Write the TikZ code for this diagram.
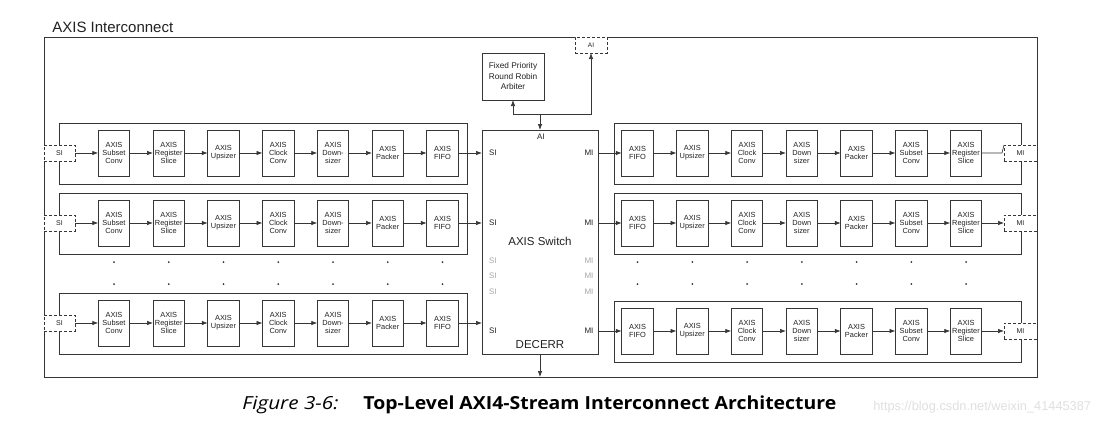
\documentclass[tikz,border=0pt]{standalone}
\usepackage{fontspec}
\setmainfont{Liberation Sans}
\newfontfamily\capfont{Open Sans}
\usetikzlibrary{arrows.meta}
\definecolor{ln}{HTML}{363636}
\definecolor{tx}{HTML}{222222}
\definecolor{gtx}{HTML}{A8A8A8}
\begin{document}
\begin{tikzpicture}[x=1pt,y=-1pt,line width=0.7pt,color=ln,
  blk/.style={draw, minimum width=31.5pt, minimum height=46pt, inner sep=0pt, outer sep=0pt, align=center, text=tx, font=\fontsize{7.4}{7.7}\selectfont},
  dbox/.style={draw, dash pattern=on 3pt off 2pt, fill=white, minimum width=31pt, minimum height=16pt, inner sep=0pt, outer sep=0pt, text=tx, font=\fontsize{7}{8}\selectfont},
  arr/.style={-{Latex[length=6pt,width=4.5pt]}},
  lbl/.style={inner sep=0pt, text=tx, font=\fontsize{8}{9}\selectfont},
  glbl/.style={inner sep=0pt, text=gtx, font=\fontsize{8}{9}\selectfont},
  big/.style={inner sep=0pt, text=tx, font=\fontsize{11.5}{13}\selectfont}]
\useasboundingbox (0,0) rectangle (1109,424);
\fill[white] (0,0) rectangle (1109,424);

% title and outer box
\node[anchor=base west, inner sep=0pt, text=tx, font=\fontsize{15}{18}\selectfont] (title) at (52,32) {AXIS Interconnect};
\node[draw, anchor=north west, minimum width=993pt, minimum height=340pt, inner sep=0pt, outer sep=0pt] (outer) at (44,37) {};

% switch
\node[draw, anchor=north west, minimum width=116pt, minimum height=224pt, inner sep=0pt, outer sep=0pt] (sw) at (482,130) {};
\node[lbl] (swai) at (541,137) {AI};
\node[big] (swname) at (540,241) {AXIS Switch};
\node[big] (decerr) at (540,345) {DECERR};
\node[lbl] (si1) at (493,153) {SI};
\node[lbl] (si2) at (493,223) {SI};
\node[glbl] (sig1) at (493,261) {SI};
\node[glbl] (sig2) at (493,276) {SI};
\node[glbl] (sig3) at (493,292) {SI};
\node[lbl] (si3) at (493,331) {SI};
\node[lbl] (mi1) at (589,153) {MI};
\node[lbl] (mi2) at (589,223) {MI};
\node[glbl] (mig1) at (589,261) {MI};
\node[glbl] (mig2) at (589,276) {MI};
\node[glbl] (mig3) at (589,292) {MI};
\node[lbl] (mi3) at (589,331) {MI};

% arbiter and AI port
\node[draw, anchor=north west, minimum width=62pt, minimum height=47pt, inner sep=0pt, outer sep=0pt, align=center, text=tx, font=\fontsize{8.3}{10.5}\selectfont] (arb) at (482,53) {Fixed Priority\\Round Robin\\Arbiter};
\node[dbox, minimum width=32pt, font=\fontsize{6.5}{7}\selectfont] (ai) at (591,45) {AI};
\coordinate (j) at (540,114);
\draw[arr] (j) -- (sw.north);
\draw[arr] (j) -| (arb.south);
\draw[arr] (j) -| (ai.south);
\draw[arr] (sw.south) -- (sw.south |- outer.south);

% left rows
\foreach \r/\y in {1/153,2/223,3/323}{
  \draw (59,\y-30) rectangle (467,\y+31);
  \foreach \c/\t in {1/{AXIS\\Subset\\Conv},2/{AXIS\\Register\\Slice},3/{AXIS\\Upsizer},4/{AXIS\\Clock\\Conv},5/{AXIS\\Down-\\sizer},6/{AXIS\\Packer},7/{AXIS\\FIFO}}{
    \node[blk] (L\r\c) at ({114+(\c-1)*54.75},\y) {\t};
  }
  \foreach \c [count=\n from 2] in {1,...,6}{
    \draw[arr] (L\r\c) -- (L\r\n);
  }
  \node[dbox] (psi\r) at (59.5,\y) {SI};
  \draw[arr] (psi\r) -- (L\r1);
  \draw[arr] (L\r7) -- (L\r7 -| sw.west);
}

% right rows
\foreach \r/\y in {1/153,2/223,3/331}{
  \draw (614,\y-30) rectangle (1021,\y+31);
  \foreach \c/\t in {1/{AXIS\\FIFO},2/{AXIS\\Upsizer},3/{AXIS\\Clock\\Conv},4/{AXIS\\Down\\sizer},5/{AXIS\\Packer},6/{AXIS\\Subset\\Conv},7/{AXIS\\Register\\Slice}}{
    \node[blk] (R\r\c) at ({637.5+(\c-1)*54.75},\y) {\t};
  }
  \foreach \c [count=\n from 2] in {1,...,6}{
    \draw[arr] (R\r\c) -- (R\r\n);
  }
  \node[dbox, minimum width=33pt] (pmi\r) at (1020.5,\y) {MI};
  \draw[arr] (R\r1 -| sw.east) -- (R\r1);
}
\draw (R17) -- ([xshift=-2pt]pmi1.west) -- (pmi1.north west);
\draw[arr] (R27) -- (pmi2);
\draw[arr] (R37) -- (pmi3);

% dots
\foreach \c in {1,...,7}{
  \fill ({114+(\c-1)*54.75},262) circle (1pt);
  \fill ({114+(\c-1)*54.75},284) circle (1pt);
  \fill ({637.5+(\c-1)*54.75},262) circle (1pt);
  \fill ({637.5+(\c-1)*54.75},284) circle (1pt);
}

% caption
\node[anchor=base west, inner sep=0pt, text=black, xscale=1.15, font=\capfont\itshape\fontsize{18}{20}\selectfont] (fig) at (242,409) {Figure 3-6:};
\node[anchor=base west, inner sep=0pt, text=black, xscale=1.08, font=\capfont\bfseries\fontsize{18}{20}\selectfont] (cap) at (363,409) {Top-Level AXI4-Stream Interconnect Architecture};
\node[anchor=base west, inner sep=0pt, text=black!12, font=\fontsize{12.8}{14}\selectfont] (wm) at (873,410) {https://blog.csdn.net/weixin\_41445387};
\end{tikzpicture}
\end{document}
